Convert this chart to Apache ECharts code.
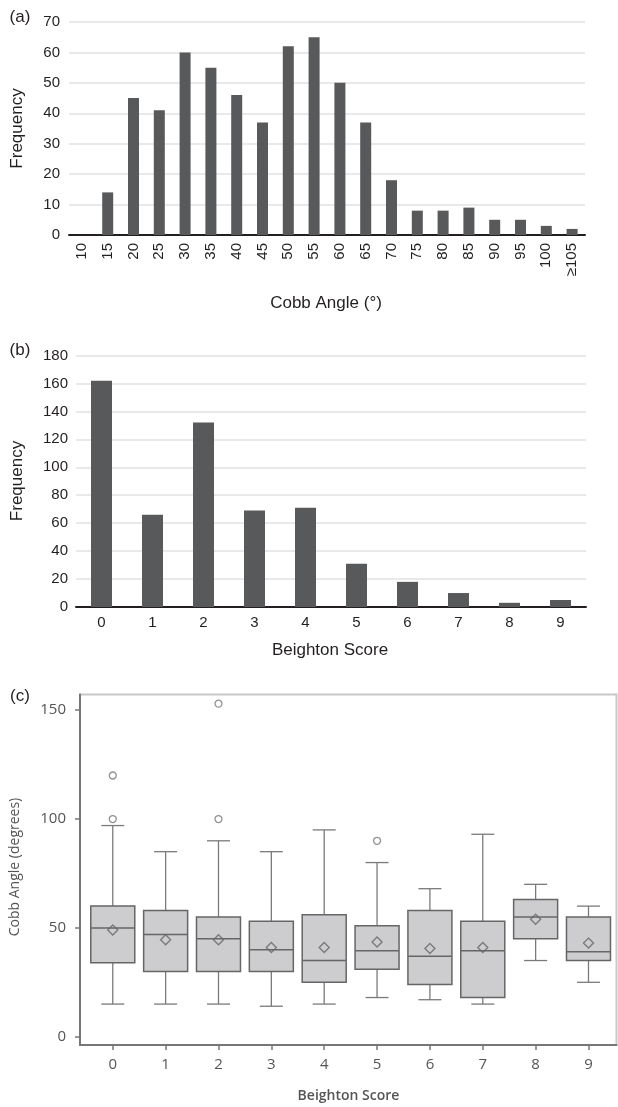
<!DOCTYPE html>
<html>
<head>
<meta charset="utf-8">
<script src="https://cdn.jsdelivr.net/npm/echarts@6/dist/echarts.min.js"></script>
<style>
html,body{margin:0;padding:0;background:#fff;}
#chart{width:618px;height:1107px;}
</style>
</head>
<body>
<div id="chart"></div>
<script>
// ---- Panel (a): Cobb angle histogram ----
const cobbCategories = ['10','15','20','25','30','35','40','45','50','55','60','65','70','75','80','85','90','95','100','\u2265105'];
const cobbFreq = [0,14,45,41,60,55,46,37,62,65,50,37,18,8,8,9,5,5,3,2];
const freqTicksA = [0,10,20,30,40,50,60,70];

// ---- Panel (b): Beighton score histogram ----
const beightonCategories = ['0','1','2','3','4','5','6','7','8','9'];
const beightonFreq = [162,66,132,69,71,31,18,10,3,5];
const freqTicksB = [0,20,40,60,80,100,120,140,160,180];

// ---- Panel (c): Cobb angle by Beighton score (box plots) ----
const boxScores = [0,1,2,3,4,5,6,7,8,9];
const boxMin    = [15,15,15,14,15,18,17,15,35,25];
const boxQ1     = [34,30,30,30,25,31,24,18,45,35];
const boxMedian = [50,47,45,40,35,39.5,37,39.5,55,39];
const boxQ3     = [60,58,55,53,56,51,58,53,63,55];
const boxMax    = [97,85,90,85,95,80,68,93,70,60];
const boxMean   = [49,44.5,44.5,41,41,43.5,40.5,41,54,43];
const outlierScore = [0,0,2,2,5];
const outlierValue = [120,100,153,100,90];
const cobbTicksC = [0,50,100,150];

const boxData = boxScores.map((s,i)=>[s,boxMin[i],boxQ1[i],boxMedian[i],boxQ3[i],boxMax[i]]);
const meanData = boxScores.map((s,i)=>[s,boxMean[i]]);
const outlierData = outlierScore.map((s,i)=>[s,outlierValue[i]]);

const FONT = 'Liberation Sans, Arial, sans-serif';
const FONT_C = 'Open Sans, sans-serif';
const TXT = '#231f20';
const BAR = '#58595b';
const GRID_LINE = '#e2e2e2';

function renderBox(params, api){
  const x = api.value(0);
  const pMin = api.coord([x, api.value(1)]);
  const pQ1 = api.coord([x, api.value(2)]);
  const pMed = api.coord([x, api.value(3)]);
  const pQ3 = api.coord([x, api.value(4)]);
  const pMax = api.coord([x, api.value(5)]);
  const cx = pMed[0];
  const hb = 22, hc = 11.5;
  const wStyle = {stroke:'#7a7a7a', lineWidth:1.3};
  return {type:'group', children:[
    {type:'line', shape:{x1:cx,y1:pMin[1],x2:cx,y2:pQ1[1]}, style:wStyle},
    {type:'line', shape:{x1:cx,y1:pQ3[1],x2:cx,y2:pMax[1]}, style:wStyle},
    {type:'line', shape:{x1:cx-hc,y1:pMin[1],x2:cx+hc,y2:pMin[1]}, style:wStyle},
    {type:'line', shape:{x1:cx-hc,y1:pMax[1],x2:cx+hc,y2:pMax[1]}, style:wStyle},
    {type:'rect', shape:{x:cx-hb,y:pQ3[1],width:2*hb,height:pQ1[1]-pQ3[1]}, style:{fill:'#cdcdcf', stroke:'#666', lineWidth:1.5}},
    {type:'line', shape:{x1:cx-hb,y1:pMed[1],x2:cx+hb,y2:pMed[1]}, style:{stroke:'#666', lineWidth:1.5}}
  ]};
}

function txt(x,y,text,size,opts){
  return Object.assign({type:'text', x:x, y:y, style:{text:text, fontSize:size, fontFamily:FONT, fill:TXT, textAlign:'center', textVerticalAlign:'middle'}}, opts||{});
}

const chart = echarts.init(document.getElementById('chart'), null, {renderer:'canvas'});
chart.setOption({
  animation:false,
  backgroundColor:'#fff',
  grid:[
    {left:69, right:33, top:22, height:213},
    {left:76, right:32, top:355.5, height:251.5},
    {left:80, right:1.5, top:694.5, height:350.5, show:true, borderColor:'#c8c8c8', borderWidth:2, backgroundColor:'#fff'}
  ],
  xAxis:[
    {gridIndex:0, type:'category', data:cobbCategories,
     axisLine:{lineStyle:{color:TXT, width:2}}, axisTick:{show:false},
     axisLabel:{rotate:90, margin:8, fontSize:15, fontFamily:FONT, color:TXT, interval:0}},
    {gridIndex:1, type:'category', data:beightonCategories,
     axisLine:{lineStyle:{color:TXT, width:2}}, axisTick:{show:false},
     axisLabel:{margin:8, fontSize:15, fontFamily:FONT, color:TXT, interval:0}},
    {gridIndex:2, type:'value', min:-0.62, max:9.53,
     splitLine:{show:false},
     axisLine:{show:true, onZero:false, lineStyle:{color:'#777', width:2}},
     axisTick:{show:true, length:5, customValues:boxScores, lineStyle:{color:'#777', width:1.5}},
     axisLabel:{customValues:boxScores, margin:12, fontSize:15, fontFamily:FONT_C, color:'#555'}}
  ],
  yAxis:[
    {gridIndex:0, type:'value', min:0, max:70, interval:10,
     axisLine:{show:false}, axisTick:{show:false},
     splitLine:{lineStyle:{color:GRID_LINE, width:1.5}},
     axisLabel:{margin:9, fontSize:15, fontFamily:FONT, color:TXT, customValues:freqTicksA}},
    {gridIndex:1, type:'value', min:0, max:180, interval:20,
     axisLine:{show:false}, axisTick:{show:false},
     splitLine:{lineStyle:{color:GRID_LINE, width:1.5}},
     axisLabel:{margin:8, fontSize:15, fontFamily:FONT, color:TXT, customValues:freqTicksB}},
    {gridIndex:2, type:'value', min:-3.8, max:157.2,
     splitLine:{show:false},
     axisLine:{show:true, onZero:false, lineStyle:{color:'#777', width:2}},
     axisTick:{show:true, length:5, customValues:cobbTicksC, lineStyle:{color:'#777', width:1.5}},
     axisLabel:{customValues:cobbTicksC, margin:14, fontSize:15, fontFamily:FONT_C, color:'#555'}}
  ],
  series:[
    {type:'bar', xAxisIndex:0, yAxisIndex:0, data:cobbFreq, barWidth:11, itemStyle:{color:BAR}},
    {type:'bar', xAxisIndex:1, yAxisIndex:1, data:beightonFreq, barWidth:21, itemStyle:{color:BAR}},
    {type:'custom', xAxisIndex:2, yAxisIndex:2, data:boxData, renderItem:renderBox,
     encode:{x:0, y:[1,2,3,4,5]}, z:2},
    {type:'scatter', xAxisIndex:2, yAxisIndex:2, data:meanData, symbol:'diamond', symbolSize:10,
     itemStyle:{color:'rgba(0,0,0,0)', borderColor:'#666', borderWidth:1.4}, z:3},
    {type:'scatter', xAxisIndex:2, yAxisIndex:2, data:outlierData, symbol:'circle', symbolSize:7,
     itemStyle:{color:'#fff', borderColor:'#777', borderWidth:1.3}, z:3}
  ],
  graphic:[
    txt(20,17,'(a)',17),
    txt(17,128.5,'Frequency',17,{rotation:Math.PI/2}),
    txt(326,303,'Cobb Angle (\u00b0)',17),
    txt(20,350.5,'(b)',17),
    txt(17,481,'Frequency',17,{rotation:Math.PI/2}),
    txt(330,650,'Beighton Score',17),
    txt(20,696,'(c)',17),
    {type:'text', x:15, y:867, rotation:Math.PI/2, style:{text:'Cobb Angle (degrees)', fontSize:14, fontFamily:FONT_C, fill:'#555', textAlign:'center', textVerticalAlign:'middle'}},
    {type:'text', x:348.5, y:1096.5, style:{text:'Beighton Score', fontSize:14, fontWeight:600, fontFamily:FONT_C, fill:'#555', textAlign:'center', textVerticalAlign:'middle'}}
  ]
});
</script>
</body>
</html>
